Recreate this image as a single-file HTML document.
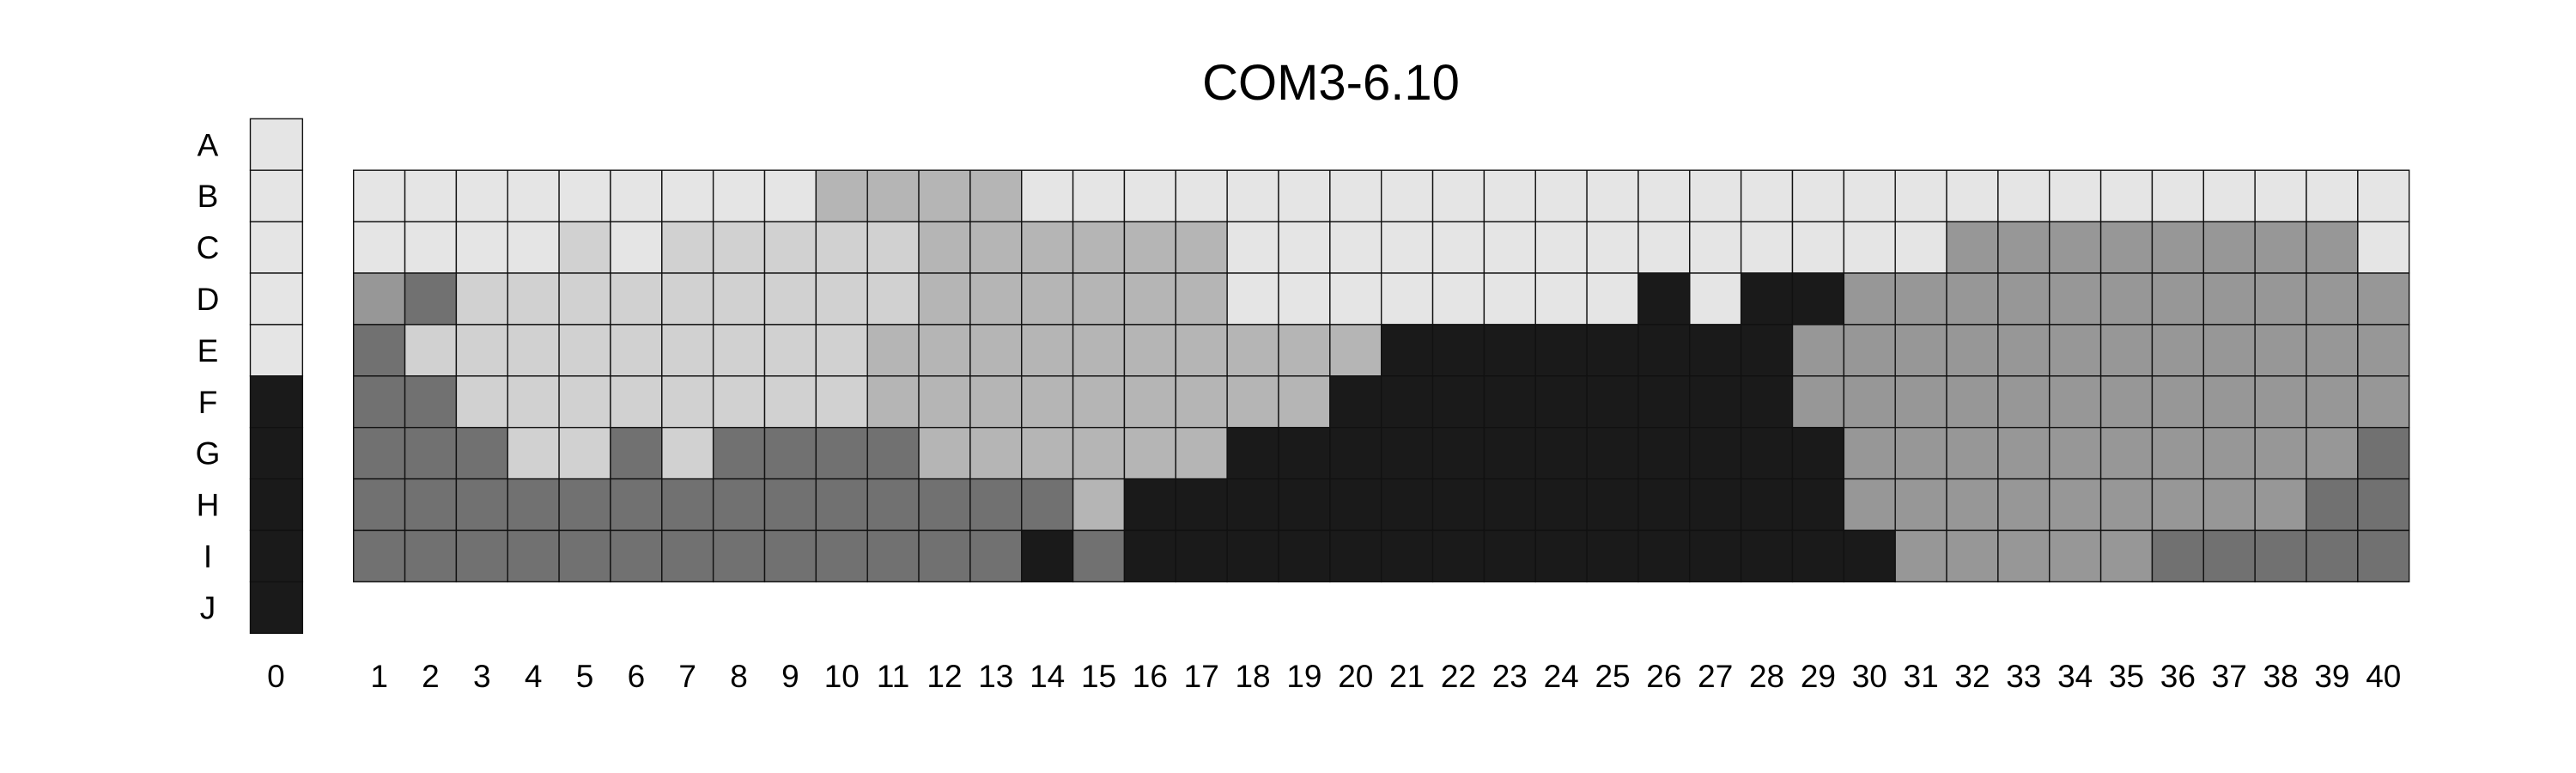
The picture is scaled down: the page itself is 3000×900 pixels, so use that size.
<!DOCTYPE html>
<html><head><meta charset="utf-8"><style>html,body{margin:0;padding:0;background:#fff}svg{display:block}</style></head>
<body>
<svg id="chart" width="3000" height="900" viewBox="0 0 3000 900" xmlns="http://www.w3.org/2000/svg" font-family="Liberation Sans, Arial, sans-serif">
<text x="1550" y="116" font-size="58" text-anchor="middle">COM3-6.10</text>
<g id="cells"></g>
<g id="labels"></g>
</svg>
<script>
const rowLabels = ["A","B","C","D","E","F","G","H","I","J"];
const colLabels = ["1","2","3","4","5","6","7","8","9","10","11","12","13","14","15","16","17","18","19","20","21","22","23","24","25","26","27","28","29","30","31","32","33","34","35","36","37","38","39","40"];
const col0Values = [1,1,1,1,1,6,6,6,6,6];
const rowB = [1,1,1,1,1,1,1,1,1,3,3,3,3,1,1,1,1,1,1,1,1,1,1,1,1,1,1,1,1,1,1,1,1,1,1,1,1,1,1,1];
const rowC = [1,1,1,1,2,1,2,2,2,2,2,3,3,3,3,3,3,1,1,1,1,1,1,1,1,1,1,1,1,1,1,4,4,4,4,4,4,4,4,1];
const rowD = [4,5,2,2,2,2,2,2,2,2,2,3,3,3,3,3,3,1,1,1,1,1,1,1,1,6,1,6,6,4,4,4,4,4,4,4,4,4,4,4];
const rowE = [5,2,2,2,2,2,2,2,2,2,3,3,3,3,3,3,3,3,3,3,6,6,6,6,6,6,6,6,4,4,4,4,4,4,4,4,4,4,4,4];
const rowF = [5,5,2,2,2,2,2,2,2,2,3,3,3,3,3,3,3,3,3,6,6,6,6,6,6,6,6,6,4,4,4,4,4,4,4,4,4,4,4,4];
const rowG = [5,5,5,2,2,5,2,5,5,5,5,3,3,3,3,3,3,6,6,6,6,6,6,6,6,6,6,6,6,4,4,4,4,4,4,4,4,4,4,5];
const rowH = [5,5,5,5,5,5,5,5,5,5,5,5,5,5,3,6,6,6,6,6,6,6,6,6,6,6,6,6,6,4,4,4,4,4,4,4,4,4,5,5];
const rowI = [5,5,5,5,5,5,5,5,5,5,5,5,5,6,5,6,6,6,6,6,6,6,6,6,6,6,6,6,6,6,4,4,4,4,4,5,5,5,5,5];
const gridRows = [rowB,rowC,rowD,rowE,rowF,rowG,rowH,rowI];
const levelColors = {1:"#e5e5e5",2:"#d1d1d1",3:"#b5b5b5",4:"#979797",5:"#717171",6:"#1a1a1a"};

const NS = "http://www.w3.org/2000/svg";
const cellsG = document.getElementById("cells");
const labelsG = document.getElementById("labels");
const gridLeft = 411.7, cellW = 59.85, top0 = 138.3, cellH = 59.9;
const col0Left = 291.5;
function xCol(i){ return gridLeft + i*cellW; }
function yRow(r){ return top0 + r*cellH; }
function rect(x,y,w,h,fill){
  const r = document.createElementNS(NS,"rect");
  r.setAttribute("x",x); r.setAttribute("y",y); r.setAttribute("width",w); r.setAttribute("height",h);
  r.setAttribute("fill",fill); r.setAttribute("stroke","#111"); r.setAttribute("stroke-width","1.4");
  cellsG.appendChild(r); return r;
}
function text(x,y,s,size,anchor){
  const t = document.createElementNS(NS,"text");
  t.setAttribute("x",x); t.setAttribute("y",y); t.setAttribute("font-size",size);
  t.setAttribute("text-anchor",anchor); t.textContent = s;
  labelsG.appendChild(t); return t;
}
col0Values.forEach((v,r)=>{
  const c = rect(col0Left, yRow(r), cellW+1, cellH, levelColors[v]);
  
  
});
gridRows.forEach((row,ri)=>{
  row.forEach((v,ci)=>{
    const c = rect(xCol(ci), yRow(ri+1), cellW, cellH, levelColors[v]);
    
    
  });
});
rowLabels.forEach((l,r)=>{
  const t = text(242, yRow(r)+cellH/2+13, l, 37, "middle");
  
  
});
const t0 = text(col0Left+cellW/2, 800, "0", 37, "middle");


colLabels.forEach((l,i)=>{
  const t = text(xCol(i)+cellW/2, 800, l, 37, "middle");
  
  
});
</script>
</body></html>
